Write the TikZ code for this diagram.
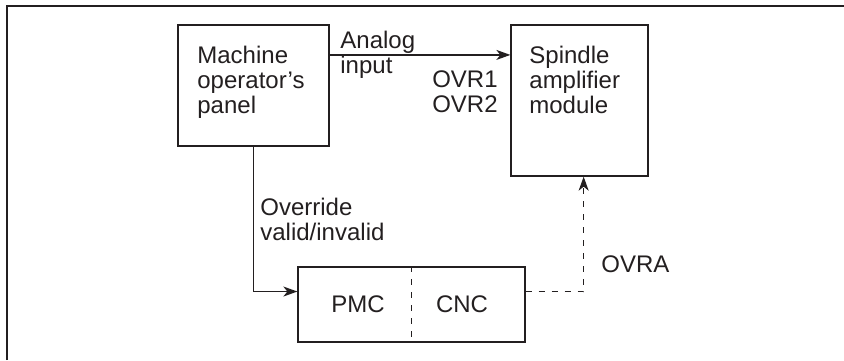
\documentclass[tikz,border=0pt]{standalone}
\usepackage{fontspec}
\setmainfont{Liberation Sans}
\usepackage{tikz}
\usetikzlibrary{arrows.meta,calc}
\usepackage{xcolor}
\definecolor{inkgray}{RGB}{35, 31, 32}

\begin{document}
\begin{tikzpicture}[x=0.5pt, y=-0.5pt, >={Stealth[length=7pt, width=5pt, inset=2pt]},
    every node/.style={font=\fontsize{12}{12.5}\selectfont, text=inkgray},
    blockbox/.style={draw=inkgray, line width=0.65pt, inner sep=0pt},
    lbl/.style={inner sep=0pt, align=left},
    wire/.style={draw=inkgray, line width=0.65pt},
    dashwire/.style={wire, dash pattern=on 3pt off 3.5pt}]
    \useasboundingbox (0,0) rectangle (844,360);
    \draw[inkgray, line width=1pt] (7,360) -- (7,6) -- (844,6);
    % blocks
    \node[blockbox, minimum width=75.5pt, minimum height=60.5pt] (panel) at (253.5,85.5) {};
    \node[blockbox, minimum width=68.5pt, minimum height=75.5pt] (spindle) at (579.5,100.5) {};
    \node[blockbox, minimum width=113.5pt, minimum height=37.5pt] (ctrl) at (411.5,304.5) {};
    \draw[dashwire] (ctrl.north) -- (ctrl.south);
    \node[lbl, anchor=north west] (paneltxt) at (197,46) {Machine\\operator’s\\panel};
    \node[lbl, anchor=north west] (spindletxt) at (529,46) {Spindle\\amplifier\\module};
    \node[lbl, anchor=base] (pmc) at (358,312) {PMC};
    \node[lbl, anchor=base] (cnc) at (462,312) {CNC};
    % signals
    \draw[wire, ->] ($(panel.north east)!.25!(panel.south east)$) coordinate (ain)
      -- (ain -| spindle.west);
    \node[lbl, anchor=north west] (analog) at (340,31) {Analog\\input};
    \node[lbl, anchor=north east, align=right] (ovr) at (498,70) {OVR1\\OVR2};
    \draw[wire, ->] (panel.south) -- (panel.south |- ctrl.north west)
      |- ($(ctrl.north west)!.33!(ctrl.south west)$);
    \node[lbl, anchor=north west] (override) at (260,198) {Override\\valid/invalid};
    \draw[dashwire, ->] ($(ctrl.north east)!.33!(ctrl.south east)$) coordinate (ovout)
      -| ($(spindle.south west)!.53!(spindle.south east)$);
    \node[lbl, anchor=base west] (ovra) at (601,272) {OVRA};
  \end{tikzpicture}
\end{document}
